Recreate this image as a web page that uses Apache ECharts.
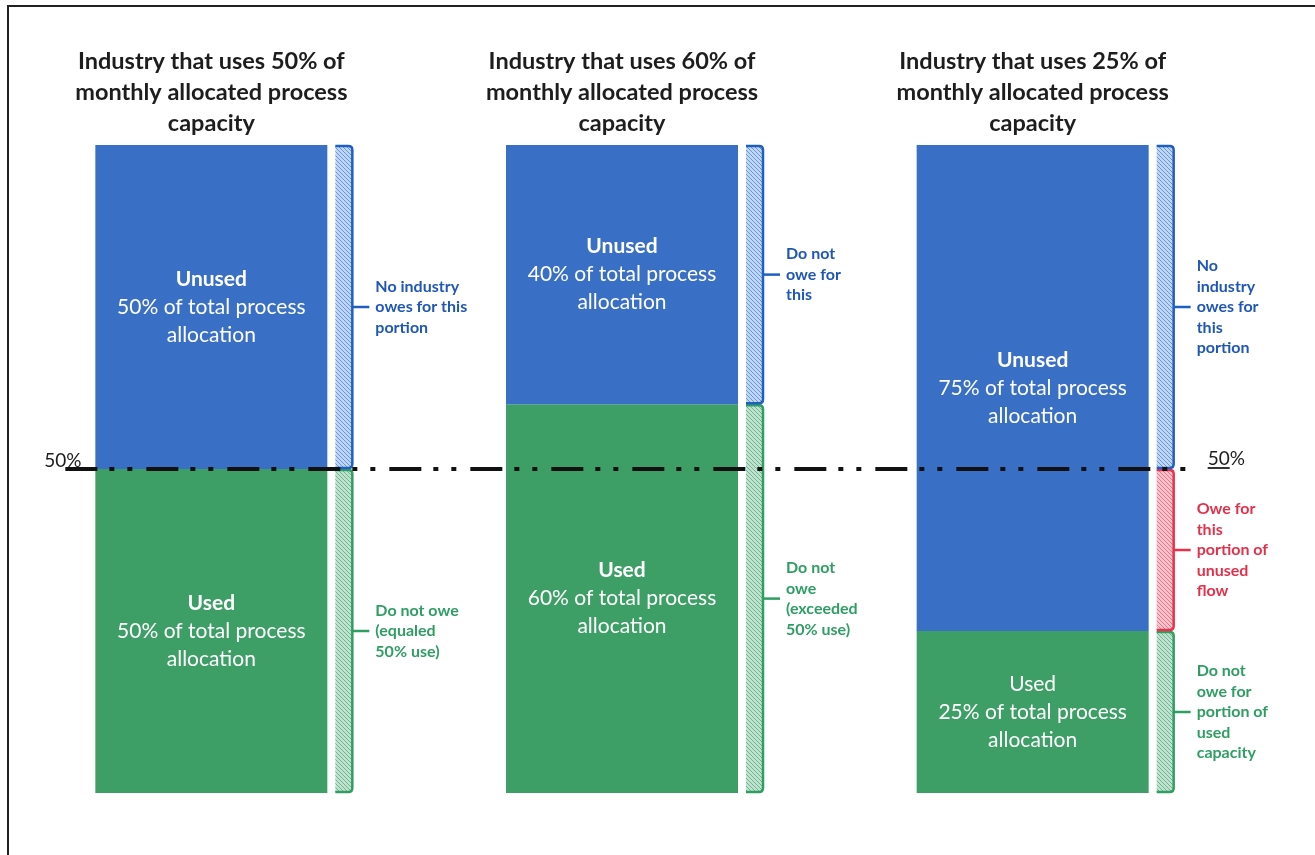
<!DOCTYPE html>
<html><head><meta charset="utf-8">
<script src="https://cdn.jsdelivr.net/npm/echarts@6/dist/echarts.min.js"></script>
<style>html,body{margin:0;padding:0;background:#fff}#c{width:1315px;height:855px}</style>
</head><body><div id="c"></div>
<script>
// ---- data ----
const industries = [
  'Industry that uses 50% of\nmonthly allocated process\ncapacity',
  'Industry that uses 60% of\nmonthly allocated process\ncapacity',
  'Industry that uses 25% of\nmonthly allocated process\ncapacity'
];
const usedPct = [50, 60, 25];
const unusedPct = [50, 40, 75];
const thresholdPct = 50;
const thresholdLabel = '50%';
const usedHead = 'Used';
const unusedHead = 'Unused';
const allocText = ['of total process', 'allocation'];
// bracket segments
const segIndustry = [0, 0, 1, 1, 2, 2, 2];
const segFrom = [0, 50, 0, 60, 0, 25, 50];
const segTo = [50, 100, 60, 100, 25, 50, 100];
const segKind = ['used', 'free', 'used', 'free', 'used', 'owe', 'free'];
const segText = [
  'Do not owe\n(equaled\n50% use)',
  'No industry\nowes for this\nportion',
  'Do not\nowe\n(exceeded\n50% use)',
  'Do not\nowe for\nthis',
  'Do not\nowe for\nportion of\nused\ncapacity',
  'Owe for\nthis\nportion of\nunused\nflow',
  'No\nindustry\nowes for\nthis\nportion'
];

// ---- styles ----
const FONT = 'Lato, "Open Sans", sans-serif';
const BLUE = '#3a6fc6', GREEN = '#3d9f66';
function hatch(bg, fg) {
  const c = document.createElement('canvas');
  c.width = c.height = 4;
  const g = c.getContext('2d');
  g.fillStyle = bg; g.fillRect(0, 0, 4, 4);
  g.strokeStyle = fg; g.lineWidth = 1;
  g.beginPath();
  g.moveTo(0, 0); g.lineTo(4, 4);
  g.moveTo(-2, 2); g.lineTo(2, 6);
  g.moveTo(2, -2); g.lineTo(6, 2);
  g.stroke();
  return c;
}
const kindStyle = {
  used: { stroke: '#2f9e63', text: '#2f9e63', pat: hatch('#c2e2d0', '#6cb58e') },
  free: { stroke: '#1f5fc4', text: '#1f57b8', pat: hatch('#c0d6f2', '#6496d8') },
  owe:  { stroke: '#ee2f4a', text: '#e3304b', pat: hatch('#f8c2cb', '#ec7689') }
};

const chart = echarts.init(document.getElementById('c'), null, { renderer: 'canvas' });
const HALF = 116;

function mainLabel(head, pct, bold) {
  return '{' + (bold ? 'b' : 'n') + '|' + head + '}\n{n|' + pct + '% ' + allocText[0] + '}\n{n|' + allocText[1] + '}';
}
const richTxt = {
  b: { fontFamily: FONT, fontWeight: 'bold', fontSize: 21, color: '#fff', lineHeight: 28 },
  n: { fontFamily: FONT, fontSize: 21, color: '#fff', lineHeight: 28 }
};

chart.setOption({
  animation: false,
  backgroundColor: '#fff',
  grid: { left: 6, right: 77, top: 145, bottom: 62 },
  xAxis: {
    type: 'category', data: industries, position: 'top',
    axisLine: { show: false }, axisTick: { show: false },
    axisLabel: { interval: 0, fontFamily: FONT, fontSize: 23.5, fontWeight: 'bold', color: '#1d1d1d', lineHeight: 31, margin: 6 }
  },
  yAxis: { type: 'value', min: 0, max: 100, show: false, splitLine: { show: false } },
  graphic: [{
    type: 'rect', shape: { x: 8, y: 6, width: 1400, height: 900 },
    style: { fill: 'none', stroke: '#222', lineWidth: 2 }, z: 100
  }],
  series: [
    {
      type: 'bar', name: 'Used', stack: 'a', barWidth: HALF * 2, data: usedPct,
      itemStyle: { color: GREEN },
      label: { show: true, position: 'inside', rich: richTxt,
        formatter: p => mainLabel(usedHead, usedPct[p.dataIndex], p.dataIndex !== 2) }
    },
    {
      type: 'bar', name: 'Unused', stack: 'a', barWidth: HALF * 2, data: unusedPct,
      itemStyle: { color: BLUE },
      label: { show: true, position: 'inside', rich: richTxt,
        formatter: p => mainLabel(unusedHead, unusedPct[p.dataIndex], true) }
    },
    {
      type: 'custom', name: 'brackets', clip: false, z: 5,
      data: segIndustry.map((c, i) => [c, segFrom[i], segTo[i]]),
      renderItem: (params, api) => {
        const ci = api.value(0);
        const topP = api.coord([ci, api.value(2)]);
        const botP = api.coord([ci, api.value(1)]);
        const st = kindStyle[segKind[params.dataIndex]];
        const left = topP[0] + HALF + 8, right = left + 17;
        const y0 = topP[1] + 1, y1 = botP[1] - 1, mid = (y0 + y1) / 2;
        const r = 4;
        const d = 'M' + left + ' ' + y0 + ' L' + (right - r) + ' ' + y0 +
          ' Q' + right + ' ' + y0 + ' ' + right + ' ' + (y0 + r) +
          ' L' + right + ' ' + (y1 - r) +
          ' Q' + right + ' ' + y1 + ' ' + (right - r) + ' ' + y1 +
          ' L' + left + ' ' + y1;
        return {
          type: 'group',
          children: [
            { type: 'rect', shape: { x: left, y: y0, width: right - left, height: y1 - y0 },
              style: { fill: { image: st.pat, repeat: 'repeat' } } },
            { type: 'path', shape: { pathData: d }, style: { fill: 'none', stroke: st.stroke, lineWidth: 2.5 } },
            { type: 'line', shape: { x1: right, y1: mid, x2: right + 17, y2: mid }, style: { stroke: st.stroke, lineWidth: 2.5 } },
            { type: 'text', style: { x: right + 23, y: mid, text: segText[params.dataIndex], fill: st.text,
              font: 'bold 16px ' + FONT, lineHeight: 20.5, align: 'left', verticalAlign: 'middle' } }
          ]
        };
      }
    },
    {
      type: 'custom', name: 'threshold', clip: false, z: 10,
      data: [[0, thresholdPct]],
      renderItem: (params, api) => {
        const y = api.coord([0, api.value(1)])[1];
        const x0 = api.coord([0, 0])[0] - HALF - 30;
        const x1 = api.coord([2, 0])[0] + HALF + 42;
        const rx = x1 + 17;
        return {
          type: 'group',
          children: [
            { type: 'line', shape: { x1: x0, y1: y, x2: x1, y2: y },
              style: { stroke: '#111', lineWidth: 4, lineDash: [32, 12, 5, 13, 5, 14] } },
            { type: 'text', style: { x: x0 - 21, y: y + 1, text: thresholdLabel, fill: '#1d1d1d',
              font: '19px ' + FONT, align: 'left', verticalAlign: 'bottom' } },
            { type: 'text', style: { x: rx, y: y - 1, text: thresholdLabel, fill: '#1d1d1d',
              font: '19px ' + FONT, align: 'left', verticalAlign: 'bottom' } },
            { type: 'line', shape: { x1: rx, y1: y - 1, x2: rx + 22, y2: y - 1 }, style: { stroke: '#1d1d1d', lineWidth: 1.8 } }
          ]
        };
      }
    }
  ]
});
</script></body></html>
